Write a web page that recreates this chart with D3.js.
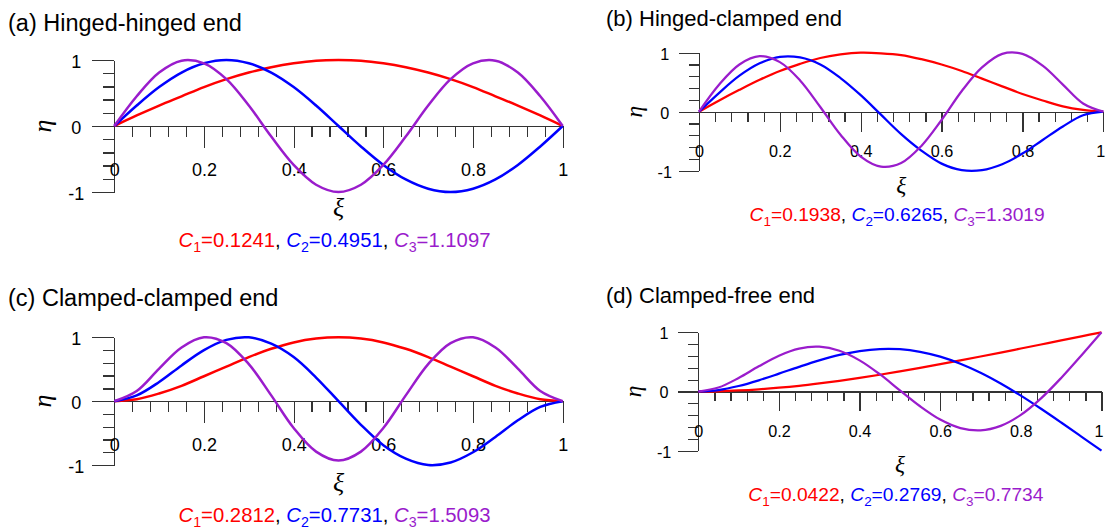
<!DOCTYPE html>
<html lang="en">
  <head>
    <meta charset="utf-8">
    <title>Mode shapes</title>
    <script src="https://d3js.org/d3.v7.min.js"></script>
    <style>
      body { margin: 0; background: #fff; }
      svg { display: block; }
      .axis path, .axis line { stroke: #333; stroke-width: 1.3; shape-rendering: crispEdges; }
      .axis text { font-family: "Liberation Sans", Arial, sans-serif; fill: #000; }
    </style>
  </head>
  <body>
    <script>
    // data
    const xi = [0, 0.05, 0.1, 0.15, 0.2, 0.25, 0.3, 0.35, 0.4, 0.45, 0.5,
                0.55, 0.6, 0.65, 0.7, 0.75, 0.8, 0.85, 0.9, 0.95, 1];
    const xTicks = [0, 0.2, 0.4, 0.6, 0.8, 1];
    const xTickLabels = ["0", "0.2", "0.4", "0.6", "0.8", "1"];
    const yTicks = [-1, 0, 1];
    const yTickLabels = ["-1", "0", "1"];

    const titles = ["(a) Hinged-hinged end", "(b) Hinged-clamped end",
                    "(c) Clamped-clamped end", "(d) Clamped-free end"];

    // (a) hinged-hinged
    const hhMode1 = [0, .16, .31, .45, .59, .71, .81, .89, .95, .99, 1, .99, .95, .89, .81, .71, .59, .45, .31, .16, 0];
    const hhMode2 = [0, .31, .59, .81, .95, 1, .95, .81, .59, .31, 0, -.31, -.59, -.81, -.95, -1, -.95, -.81, -.59, -.31, 0];
    const hhMode3 = [0, .45, .81, .99, .95, .71, .31, -.16, -.59, -.89, -1, -.89, -.59, -.16, .31, .71, .95, .99, .81, .45, 0];
    const hhCoef = ["0.1241", "0.4951", "1.1097"];

    // (b) hinged-clamped
    const hcMode1 = [0, .19, .37, .54, .69, .81, .91, .97, 1, .99, .96, .89, .80, .69, .56, .43, .30, .19, .09, .03, 0];
    const hcMode2 = [0, .32, .61, .82, .93, .92, .80, .57, .28, -.05, -.38, -.66, -.88, -.99, -.99, -.89, -.71, -.48, -.25, -.06, 0];
    const hcMode3 = [0, .46, .80, .94, .84, .53, .08, -.39, -.76, -.93, -.87, -.58, -.14, .35, .75, .98, .98, .78, .46, .14, 0];
    const hcCoef = ["0.1938", "0.6265", "1.3019"];

    // (c) clamped-clamped
    const ccMode1 = [0, .03, .12, .24, .39, .54, .69, .82, .92, .98, 1, .98, .92, .82, .69, .54, .39, .24, .12, .03, 0];
    const ccMode2 = [0, .09, .30, .56, .80, .96, 1, .90, .69, .37, 0, -.37, -.69, -.90, -1, -.96, -.80, -.56, -.30, -.09, 0];
    const ccMode3 = [0, .16, .51, .84, 1, .91, .58, .09, -.42, -.79, -.93, -.79, -.42, .09, .58, .91, 1, .84, .51, .16, 0];
    const ccCoef = ["0.2812", "0.7731", "1.5093"];

    // (d) clamped-free
    const cfMode1 = [0, .004, .017, .037, .064, .097, .137, .181, .230, .283, .340, .399, .461, .525, .591, .658, .726, .794, .862, .931, 1];
    const cfMode2 = [0, .025, .093, .189, .301, .417, .526, .618, .683, .717, .714, .671, .589, .470, .317, .135, -.070, -.292, -.524, -.761, -1];
    const cfMode3 = [0, .067, .228, .425, .605, .725, .756, .688, .526, .292, .020, -.249, -.474, -.618, -.657, -.581, -.395, -.116, .229, .609, 1];
    const cfCoef = ["0.0422", "0.2769", "0.7734"];

    const modeColors = ["#ff0000", "#0000ff", "#9a1ccc"];

    const panelModes = [[hhMode1, hhMode2, hhMode3], [hcMode1, hcMode2, hcMode3],
                        [ccMode1, ccMode2, ccMode3], [cfMode1, cfMode2, cfMode3]];
    const panelCoefs = [hhCoef, hcCoef, ccCoef, cfCoef];

    // layout of each panel (pixels)
    const layout = [
      {left: 114.3, right: 562.7, top: 60, bottom: 192, s: 1, tx: 8, ty: 31, tf: 23.5, cf: 20.3},
      {left: 699, right: 1103.3, top: 52.7, bottom: 170.7, s: 0.9, tx: 606, ty: 26, tf: 22, cf: 19.2},
      {left: 114.3, right: 562.7, top: 337.3, bottom: 465, s: 1, tx: 8, ty: 306, tf: 23.5, cf: 20.3},
      {left: 698.3, right: 1101.5, top: 332.3, bottom: 450.7, s: 0.9, tx: 606, ty: 303, tf: 22, cf: 19.2}
    ];

    const w = 1106, h = 529;
    const svg = d3.select("body").append("svg")
      .attr("width", w).attr("height", h);

    layout.forEach(function (L, p) {
      const s = L.s;
      const x = d3.scaleLinear().domain([0, 1]).range([L.left, L.right]);
      const y = d3.scaleLinear().domain([-1, 1]).range([L.bottom, L.top]);
      const y0 = y(0);
      const g = svg.append("g");

      // title
      g.append("text")
        .attr("x", L.tx).attr("y", L.ty)
        .attr("font-family", "Liberation Sans, Arial, sans-serif")
        .attr("font-size", L.tf)
        .text(titles[p]);

      // y axis minor ticks
      const yMinor = d3.range(-0.8, 0.81, 0.2).filter(v => Math.abs(v) > 0.01);
      g.append("g").attr("class", "axis")
        .attr("transform", "translate(" + L.left + ",0)")
        .call(d3.axisLeft(y).tickValues(yMinor).tickSize(11 * s).tickFormat(""))
        .call(a => a.select(".domain").remove());

      // y axis major
      const ya = g.append("g").attr("class", "axis")
        .attr("transform", "translate(" + L.left + ",0)")
        .call(d3.axisLeft(y).tickValues(yTicks).tickSizeInner(22 * s).tickSizeOuter(0)
          .tickFormat((d, i) => yTickLabels[i]));
      ya.selectAll("text")
        .attr("font-size", 18 * s)
        .attr("text-anchor", "middle")
        .attr("x", -38 * s)
        .attr("dy", "0.4em");

      // x axis minor ticks
      const xMinor = d3.range(0.04, 1, 0.04).filter(v => Math.abs(v * 5 - Math.round(v * 5)) > 0.01);
      g.append("g").attr("class", "axis")
        .attr("transform", "translate(0," + y0 + ")")
        .call(d3.axisBottom(x).tickValues(xMinor).tickSize(11 * s).tickFormat(""))
        .call(a => a.select(".domain").remove());

      // x axis major
      const xa = g.append("g").attr("class", "axis")
        .attr("transform", "translate(0," + y0 + ")")
        .call(d3.axisBottom(x).tickValues(xTicks).tickSizeInner(22 * s).tickSizeOuter(0)
          .tickPadding(15.5 * s)
          .tickFormat((d, i) => xTickLabels[i]));
      xa.selectAll("text").attr("font-size", 18 * s);
      xa.select(".domain").attr("stroke", "#666");
      // keep the last label inside the picture
      if (L.right + 6 > w) {
        xa.selectAll("text").filter(d => d === 1).attr("dx", -3);
      }

      // axis titles
      g.append("text")
        .attr("transform", "translate(" + (L.left - 71 * s) + "," + y0 + ") rotate(-90)")
        .attr("text-anchor", "middle")
        .attr("dy", "0.3em")
        .attr("font-family", "Liberation Serif, Times New Roman, serif")
        .attr("font-style", "italic")
        .attr("font-size", 26 * s)
        .text("η");
      g.append("text")
        .attr("x", (L.left + L.right) / 2)
        .attr("y", y0 + 82 * s)
        .attr("text-anchor", "middle")
        .attr("dy", "0.3em")
        .attr("font-family", "Liberation Serif, Times New Roman, serif")
        .attr("font-style", "italic")
        .attr("font-size", 26 * s)
        .text("ξ");

      // curves
      const line = d3.line()
        .x((d, i) => x(xi[i]))
        .y(d => y(d))
        .curve(d3.curveCatmullRom);
      g.selectAll("path.mode")
        .data(panelModes[p])
        .enter()
        .append("path")
        .attr("class", "mode")
        .attr("d", line)
        .attr("fill", "none")
        .attr("stroke", (d, i) => modeColors[i])
        .attr("stroke-width", 2.5 * s)
        .attr("stroke-linejoin", "round");

      // coefficients line
      const fs = L.cf;
      const t = g.append("text")
        .attr("x", (L.left + L.right) / 2 - 4)
        .attr("y", y0 + 114 * s)
        .attr("dy", "0.35em")
        .attr("text-anchor", "middle")
        .attr("font-family", "Liberation Sans, Arial, sans-serif")
        .attr("font-size", fs);
      panelCoefs[p].forEach(function (c, i) {
        if (i > 0) t.append("tspan").attr("fill", "#000").text(", ");
        t.append("tspan").attr("fill", modeColors[i]).attr("font-style", "italic").text("C");
        t.append("tspan").attr("fill", modeColors[i]).attr("font-size", fs * 0.7)
          .attr("dy", 0.25 * fs).text(String(i + 1));
        t.append("tspan").attr("fill", modeColors[i]).attr("dy", -0.25 * fs).text("=" + c);
      });
    });
    </script>
  </body>
</html>
